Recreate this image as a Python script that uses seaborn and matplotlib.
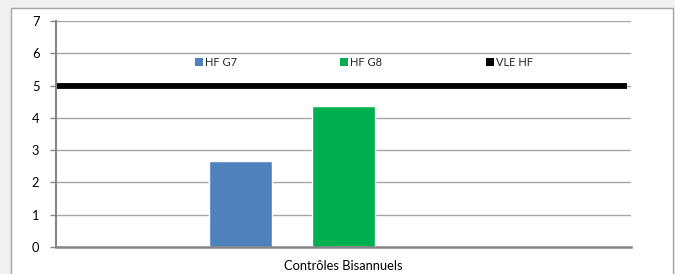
import matplotlib
matplotlib.use("Agg")
import matplotlib.pyplot as plt
import matplotlib.patches as mpatches
import seaborn as sns
import pandas as pd

categories = ["Contrôles Bisannuels"]
series = ["HF G7", "HF G8", "VLE HF"]
bar_values = [2.66, 4.37]
vle_value = 5.0
colors = ["#4f81bd", "#00b050", "#000000"]
yticks = [0, 1, 2, 3, 4, 5, 6, 7]

sns.set_theme(style="white")
plt.rcParams["font.family"] = ["Lato", "DejaVu Sans"]

W, H = 675, 274
fig = plt.figure(figsize=(W / 100, H / 100), dpi=100)
fig.patch.set_facecolor("#f0f0f0")
fig.patches.append(mpatches.Rectangle((10.5 / W, -0.05), (673 - 10.5) / W, 1 - 7.5 / H + 0.05,
                                      transform=fig.transFigure, facecolor="white",
                                      edgecolor="#a6a6a6", linewidth=1.0, zorder=-10))

ax = fig.add_axes([56 / W, 1 - 247 / H, (631 - 56) / W, (247 - 21) / H])
ax.set_facecolor("none")
ax.set_zorder(1)

df = pd.DataFrame({"cat": [categories[0]] * 2, "series": series[:2], "value": bar_values})
sns.barplot(data=df, x="cat", y="value", hue="series", hue_order=series,
            palette=dict(zip(series, colors)), width=0.537, gap=0.39,
            saturation=1, ax=ax, legend=False, zorder=3)

ax.axhline(vle_value, xmin=0, xmax=0.993, color=colors[2], linewidth=4.2, zorder=4,
           solid_capstyle="butt")

ax.set_xlim(-0.5, 0.5)
ax.set_ylim(0, 7)
ax.set_yticks(yticks)
ax.yaxis.grid(True, color="#a6a6a6", linewidth=1.0, zorder=0)
ax.set_axisbelow(True)
ax.set_xlabel("")
ax.set_ylabel("")
ax.set_xticks([0])
ax.set_xticklabels(categories)
ax.set_xticks([-0.5, 0.5], minor=True)
ax.tick_params(axis="x", which="major", length=0, pad=9, labelsize=9.3, colors="#000000")
ax.tick_params(axis="x", which="minor", length=4, width=1.2, color="#868686", direction="out")
ax.tick_params(axis="y", length=4, width=1.0, color="#868686", direction="out", pad=8,
               labelsize=9.3, left=True)
for t in ax.get_yticklabels() + ax.get_xticklabels():
    t.set_color("#000000")

for s in ["top", "right"]:
    ax.spines[s].set_visible(False)
ax.spines["left"].set_color("#868686")
ax.spines["left"].set_linewidth(1.5)
ax.spines["bottom"].set_color("#868686")
ax.spines["bottom"].set_linewidth(1.8)
ax.spines["left"].set_zorder(5)
ax.spines["bottom"].set_zorder(5)

handles = [mpatches.Patch(facecolor=c, edgecolor="none", label=s) for s, c in zip(series, colors)]
leg = ax.legend(handles=handles, ncol=3, loc="center left",
                bbox_to_anchor=((195 - 56) / 575, (247 - 62) / 226),
                frameon=False, fontsize=8, handlelength=0.7, handleheight=0.7,
                handletextpad=0.2, columnspacing=9.3, borderpad=0, borderaxespad=0)

fig.savefig("out.png", dpi=100, facecolor=fig.get_facecolor())
